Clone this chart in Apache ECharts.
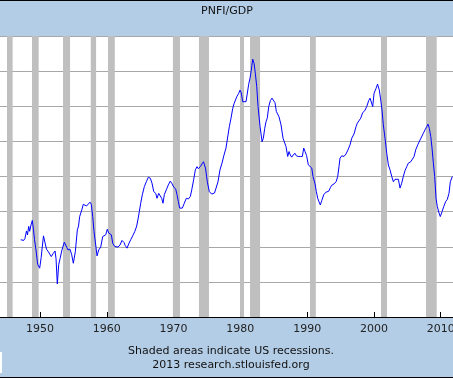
<!DOCTYPE html>
<html>
<head>
<meta charset="utf-8">
<script src="https://cdn.jsdelivr.net/npm/echarts@6/dist/echarts.min.js"></script>
<style>
html, body { margin: 0; padding: 0; }
#main { width: 453px; height: 378px; }
</style>
</head>
<body>
<div id="main"></div>
<script>
// quarterly-ish readings of PNFI/GDP (percent) off the picture
var years = [
	1947.11, 1947.35, 1947.56, 1947.75, 1947.98, 1948.13, 1948.31, 1948.46, 1948.65, 1948.85,
	1949.03, 1949.18, 1949.40, 1949.65, 1949.95, 1950.18, 1950.37, 1950.52, 1950.75, 1950.97,
	1951.20, 1951.45, 1951.69, 1951.95, 1952.25, 1952.40, 1952.59, 1952.80, 1953.00, 1953.29,
	1953.64, 1953.89, 1954.19, 1954.49, 1954.75, 1954.99, 1955.29, 1955.59, 1955.77, 1955.94,
	1956.29, 1956.48, 1956.69, 1956.96, 1957.19, 1957.49, 1957.68, 1957.89, 1958.09, 1958.34,
	1958.54, 1958.79, 1959.09, 1959.39, 1959.58, 1959.84, 1960.08, 1960.29, 1960.48, 1960.68,
	1960.89, 1961.19, 1961.43, 1961.68, 1961.98, 1962.28, 1962.58, 1962.77, 1963.03, 1963.28,
	1963.58, 1963.88, 1964.18, 1964.48, 1964.68, 1964.87, 1965.08, 1965.32, 1965.62, 1965.92,
	1966.22, 1966.52, 1966.77, 1967.03, 1967.33, 1967.52, 1967.78, 1968.01, 1968.22, 1968.42,
	1968.61, 1968.91, 1969.21, 1969.51, 1969.72, 1970.02, 1970.32, 1970.52, 1970.71, 1970.92,
	1971.11, 1971.31, 1971.61, 1971.91, 1972.21, 1972.51, 1972.72, 1973.02, 1973.26, 1973.51,
	1973.71, 1974.00, 1974.26, 1974.48, 1974.78, 1975.05, 1975.35, 1975.71, 1975.95, 1976.13,
	1976.36, 1976.65, 1976.95, 1977.25, 1977.55, 1977.85, 1978.15, 1978.35, 1978.60, 1978.86,
	1979.05, 1979.25, 1979.46, 1979.76, 1979.95, 1980.14, 1980.35, 1980.59, 1980.85, 1981.04,
	1981.25, 1981.45, 1981.64, 1981.85, 1982.05, 1982.24, 1982.45, 1982.65, 1982.95, 1983.25,
	1983.44, 1983.65, 1983.84, 1984.04, 1984.25, 1984.49, 1984.74, 1985.00, 1985.19, 1985.39,
	1985.60, 1985.79, 1986.09, 1986.39, 1986.58, 1986.84, 1987.09, 1987.29, 1987.48, 1987.69,
	1987.89, 1988.19, 1988.38, 1988.68, 1988.98, 1989.28, 1989.49, 1989.68, 1989.91, 1990.18,
	1990.39, 1990.69, 1990.88, 1991.18, 1991.38, 1991.58, 1991.78, 1991.97, 1992.18, 1992.48,
	1992.78, 1992.98, 1993.23, 1993.47, 1993.68, 1994.03, 1994.33, 1994.58, 1994.77, 1994.92,
	1995.18, 1995.52, 1995.82, 1996.12, 1996.42, 1996.68, 1997.02, 1997.32, 1997.52, 1997.77,
	1998.02, 1998.32, 1998.62, 1998.92, 1999.22, 1999.42, 1999.61, 1999.82, 2000.02, 2000.32,
	2000.54, 2000.81, 2001.02, 2001.21, 2001.41, 2001.66, 2001.92, 2002.16, 2002.41, 2002.67,
	2002.91, 2003.16, 2003.42, 2003.66, 2003.91, 2004.16, 2004.40, 2004.66, 2004.91, 2005.15,
	2005.51, 2005.75, 2006.01, 2006.26, 2006.56, 2006.91, 2007.16, 2007.40, 2007.65, 2007.91,
	2008.10, 2008.30, 2008.51, 2008.70, 2008.90, 2009.10, 2009.30, 2009.49, 2009.75, 2009.94,
	2010.20, 2010.45, 2010.75, 2010.99, 2011.24, 2011.44, 2011.74
];
var pnfiShare = [
	9.20, 9.22, 9.18, 9.24, 9.45, 9.34, 9.58, 9.44, 9.62, 9.75,
	9.48, 9.20, 8.91, 8.50, 8.39, 8.70, 9.05, 9.31, 9.27, 8.93,
	8.87, 8.83, 8.72, 8.80, 8.88, 8.66, 7.94, 8.49, 8.66, 8.91,
	9.13, 9.11, 8.91, 8.93, 8.77, 8.53, 8.86, 9.48, 9.59, 9.86,
	10.07, 10.21, 10.16, 10.16, 10.21, 10.27, 10.21, 9.86, 9.43, 9.05,
	8.74, 8.91, 8.99, 9.29, 9.24, 9.34, 9.50, 9.39, 9.34, 9.34,
	9.10, 9.01, 9.02, 8.99, 9.05, 9.18, 9.12, 9.03, 8.96, 9.08,
	9.20, 9.31, 9.43, 9.59, 9.79, 10.00, 10.24, 10.48, 10.71, 10.85,
	10.98, 10.95, 10.81, 10.57, 10.52, 10.38, 10.52, 10.57, 10.38, 10.24,
	10.48, 10.62, 10.76, 10.87, 10.81, 10.70, 10.64, 10.48, 10.29, 10.10,
	10.14, 10.10, 10.24, 10.38, 10.36, 10.43, 10.62, 10.92, 11.19, 11.28,
	11.22, 11.28, 11.36, 11.42, 11.24, 10.85, 10.57, 10.50, 10.48, 10.53,
	10.67, 10.85, 11.19, 11.38, 11.61, 11.81, 12.18, 12.42, 12.66, 12.94,
	13.07, 13.04, 13.27, 13.37, 13.46, 13.38, 13.13, 13.16, 13.13, 13.16,
	13.63, 13.80, 14.03, 14.34, 14.22, 13.94, 13.56, 12.99, 12.42, 11.99,
	12.09, 12.37, 12.56, 12.67, 12.99, 13.16, 13.23, 13.18, 13.10, 12.85,
	12.89, 12.70, 12.47, 12.09, 12.04, 11.85, 11.57, 11.71, 11.61, 11.55,
	11.61, 11.66, 11.59, 11.57, 11.57, 11.57, 11.81, 11.71, 11.60, 11.33,
	11.36, 11.24, 11.00, 10.79, 10.57, 10.38, 10.28, 10.19, 10.31, 10.48,
	10.55, 10.60, 10.58, 10.68, 10.75, 10.79, 10.85, 11.00, 11.28, 11.52,
	11.59, 11.57, 11.64, 11.76, 11.90, 12.09, 12.21, 12.42, 12.52, 12.55,
	12.66, 12.82, 12.87, 12.99, 13.16, 13.23, 13.21, 12.99, 13.37, 13.51,
	13.63, 13.46, 13.18, 12.89, 12.47, 12.09, 11.66, 11.33, 11.19, 11.00,
	10.85, 10.92, 10.95, 10.92, 10.67, 10.81, 11.00, 11.17, 11.28, 11.38,
	11.42, 11.42, 11.57, 11.76, 11.90, 12.04, 12.09, 12.23, 12.33, 12.42,
	12.49, 12.37, 12.14, 11.81, 11.38, 11.00, 10.38, 10.14, 9.96, 9.86,
	10.00, 10.14, 10.29, 10.35, 10.52, 10.85, 11.00
];
// NBER recessions
var recessionStart = [1945.06, 1948.80, 1953.45, 1957.60, 1960.18, 1969.90, 1973.80, 1979.95, 1981.45, 1990.43, 2001.06, 2007.80];
var recessionEnd   = [1945.90, 1949.80, 1954.50, 1958.40, 1961.20, 1970.96, 1975.30, 1980.55, 1982.95, 1991.30, 2001.96, 2009.40];
var xTicks = [1950, 1960, 1970, 1980, 1990, 2000, 2010];

function initPage() {
	var myChart = echarts.init(document.getElementById('main'));
	var fontName = 'DejaVu Sans';

	var lineData = [];
	for (var i = 0; i < years.length; i++) {
		lineData.push([years[i], pnfiShare[i]]);
	}
	var bands = [];
	for (var j = 0; j < recessionStart.length; j++) {
		bands.push([{ xAxis : recessionStart[j] }, { xAxis : recessionEnd[j] }]);
	}

	myChart.setOption({
		backgroundColor : '#b4cde6',
		animation : false,
		grid : {
			show : true,
			backgroundColor : '#ffffff',
			borderWidth : 0,
			left : 0,
			right : 0,
			top : 36,
			bottom : 61,
			outerBoundsMode : 'none'
		},
		xAxis : {
			type : 'value',
			min : 1944.01,
			max : 2011.84,
			axisLine : {
				lineStyle : { color : '#000000', width : 1 }
			},
			axisTick : {
				inside : true,
				length : 5,
				customValues : xTicks,
				lineStyle : { color : '#000000' }
			},
			axisLabel : {
				customValues : xTicks,
				formatter : function (v) { return String(v); },
				color : '#222222',
				fontFamily : fontName,
				fontSize : 11,
				margin : 7
			},
			splitLine : { show : false }
		},
		yAxis : {
			type : 'value',
			min : 7,
			max : 15,
			interval : 1,
			axisLine : { show : false },
			axisTick : { show : false },
			axisLabel : { show : false },
			splitLine : {
				lineStyle : { color : '#a8a8a8', width : 1 }
			}
		},
		series : [ {
			type : 'line',
			data : lineData,
			showSymbol : false,
			lineStyle : { color : '#0000ff', width : 1 },
			markArea : {
				silent : true,
				itemStyle : { color : '#bfbfbf', opacity : 1 },
				data : bands
			}
		} ],
		graphic : [ {
			type : 'rect',
			shape : { x : 0, y : 0, width : 453, height : 1 },
			style : { fill : '#000000' }
		}, {
			type : 'rect',
			shape : { x : 0, y : 377, width : 453, height : 1 },
			style : { fill : '#000000' }
		}, {
			type : 'rect',
			shape : { x : 0, y : 352, width : 2, height : 21 },
			style : { fill : '#ffffff' }
		}, {
			type : 'text',
			x : 227,
			y : 11,
			style : {
				text : 'PNFI/GDP',
				align : 'center',
				verticalAlign : 'middle',
				fill : '#111111',
				font : '11px "DejaVu Sans"'
			}
		}, {
			type : 'text',
			x : 231,
			y : 358,
			style : {
				text : 'Shaded areas indicate US recessions.\n2013 research.stlouisfed.org',
				align : 'center',
				verticalAlign : 'middle',
				lineHeight : 14,
				fill : '#111111',
				font : '11px "DejaVu Sans"'
			}
		} ]
	});
}

initPage();
</script>
</body>
</html>
